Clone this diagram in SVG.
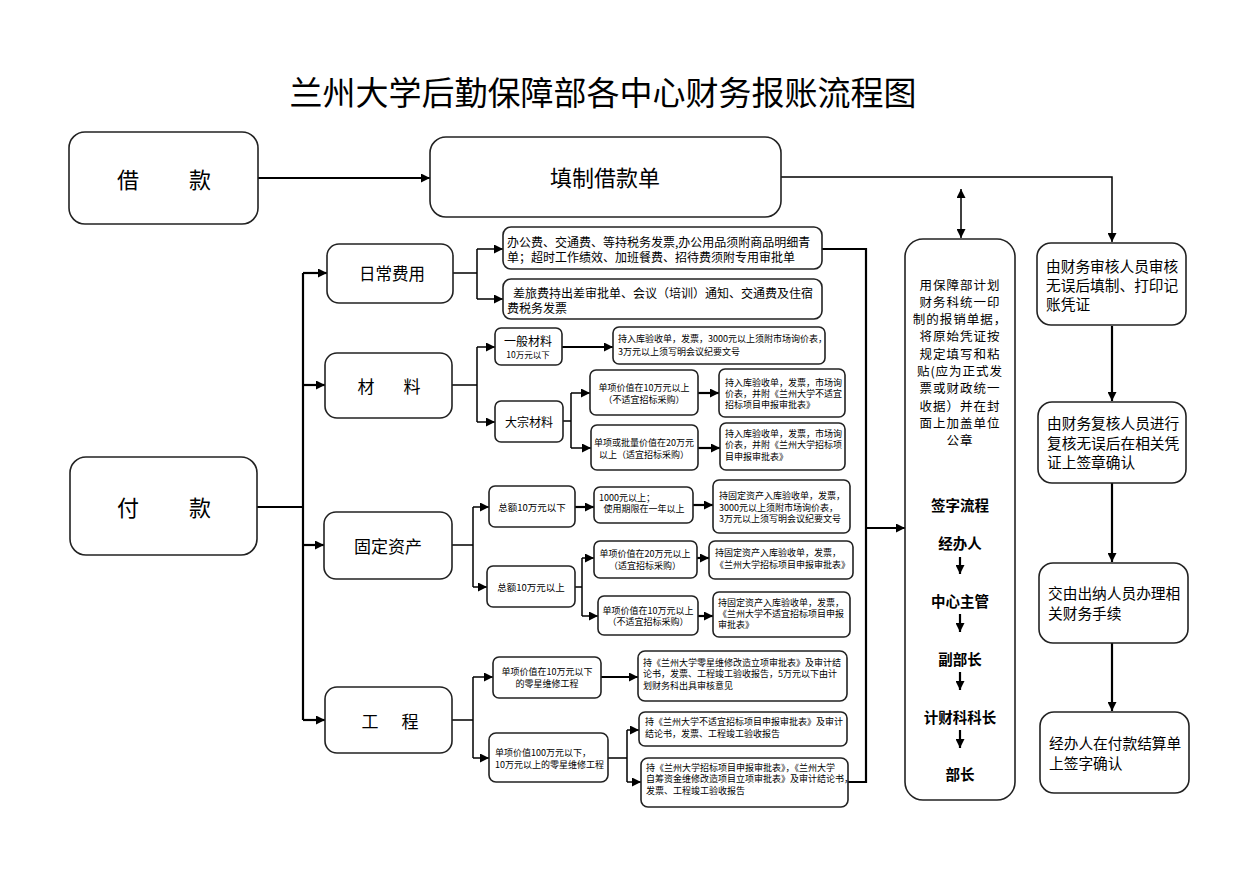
<svg xmlns="http://www.w3.org/2000/svg" width="1253" height="877" viewBox="0 0 1253 877">
<defs>
<marker id="ah" viewBox="0 0 10 10" refX="10" refY="5" markerWidth="9" markerHeight="9" markerUnits="userSpaceOnUse" orient="auto-start-reverse"><path d="M0,0 L10,5 L0,10 z" fill="#000"/></marker>
<style>
.box{fill:#fff;stroke:#222;stroke-width:1.6}
.t{font-family:"Noto Sans CJK SC","Liberation Sans",sans-serif;fill:#000;dominant-baseline:central}
.c{text-anchor:middle}
.b{font-weight:bold}
.ln{fill:none;stroke:#000;stroke-width:1.5}
.th{fill:none;stroke:#000;stroke-width:2.2}
.ar{marker-end:url(#ah)}
.s9{font-size:9px}
.s12{font-size:12px}
</style>
</defs>
<rect width="1253" height="877" fill="#fff"/>
<text class="t c" x="603" y="91" font-size="33">兰州大学后勤保障部各中心财务报账流程图</text>

<g id="connectors">
<path class="th ar" d="M258,178 H430"/>
<path class="ln ar" d="M781,177 H1112 V242"/>
<path class="ln ar" d="M961,189 V238" marker-start="url(#ah)"/>
<path class="th ar" d="M1112,326 V401"/>
<path class="th ar" d="M1112,483 V562"/>
<path class="th ar" d="M1112,643 V711"/>
<path class="th" d="M257,507 H303"/>
<path class="th" d="M303,273 V720"/>
<path class="th ar" d="M303,273 H327"/>
<path class="th ar" d="M303,385 H325"/>
<path class="th ar" d="M303,545 H324"/>
<path class="th ar" d="M303,720 H325"/>
<path class="ln" d="M453,273 H477 M477,249 V299"/>
<path class="ln ar" d="M477,249 H503"/>
<path class="ln ar" d="M477,299 H503"/>
<path class="ln" d="M452,385 H477 M477,347 V422"/>
<path class="ln ar" d="M477,347 H495"/>
<path class="ln ar" d="M477,422 H495"/>
<path class="th ar" d="M562,347 H613"/>
<path class="ln" d="M563,421 H571 M571,393 V448"/>
<path class="ln ar" d="M571,393 H590"/>
<path class="ln ar" d="M571,448 H591"/>
<path class="th ar" d="M698,393 H719"/>
<path class="th ar" d="M698,448 H720"/>
<path class="ln" d="M452,545 H473 M473,507 V587"/>
<path class="ln ar" d="M473,507 H489"/>
<path class="ln ar" d="M473,587 H487"/>
<path class="th ar" d="M575,507 H594"/>
<path class="th ar" d="M693,505 H713"/>
<path class="ln" d="M575,587 H582 M582,558 V616"/>
<path class="ln ar" d="M582,558 H594"/>
<path class="ln ar" d="M582,616 H598"/>
<path class="th ar" d="M697,558 H709"/>
<path class="th ar" d="M698,616 H713"/>
<path class="ln" d="M452,720 H473 M473,677 V758"/>
<path class="ln ar" d="M473,677 H493"/>
<path class="ln ar" d="M473,758 H489"/>
<path class="th ar" d="M601,677 H638"/>
<path class="ln" d="M608,758 H627 M627,730 V782"/>
<path class="ln ar" d="M627,730 H639"/>
<path class="ln ar" d="M627,782 H641"/>
<path class="th" d="M822,249 H866 V782 H848"/>
<path class="th ar" d="M866,528 H905"/>
</g>

<g id="n-jiekuan"><rect class="box" x="69" y="132" width="189" height="92" rx="16"/><text class="t c" x="128" y="178" font-size="22">借</text><text class="t c" x="200" y="178" font-size="22">款</text></g>
<g id="n-tianzhi"><rect class="box" x="430" y="137" width="351" height="80" rx="16"/><text class="t c" x="605" y="176" font-size="22">填制借款单</text></g>
<g id="n-fukuan"><rect class="box" x="70" y="457" width="187" height="98" rx="16"/><text class="t c" x="128" y="506" font-size="22">付</text><text class="t c" x="200" y="506" font-size="22">款</text></g>

<g id="n-richang"><rect class="box" x="327" y="244" width="126" height="59" rx="12"/><text class="t c" x="392" y="273" font-size="16.5">日常费用</text></g>
<g id="n-cailiao"><rect class="box" x="325" y="353" width="127" height="65" rx="12"/><text class="t c" x="366" y="385" font-size="17">材</text><text class="t c" x="412" y="385" font-size="17">料</text></g>
<g id="n-guding"><rect class="box" x="324" y="512" width="128" height="67" rx="12"/><text class="t c" x="388" y="545" font-size="17">固定资产</text></g>
<g id="n-gongcheng"><rect class="box" x="325" y="687" width="127" height="66" rx="12"/><text class="t c" x="370" y="720" font-size="17">工</text><text class="t c" x="410" y="720" font-size="17">程</text></g>

<g id="n-rc1"><rect class="box" x="503" y="227" width="319" height="42" rx="8"/><text class="t s12" x="507" y="241">办公费、交通费、等持税务发票,办公用品须附商品明细青</text><text class="t s12" x="507" y="256">单；超时工作绩效、加班餐费、招待费须附专用审批单</text></g>
<g id="n-rc2"><rect class="box" x="503" y="279" width="319" height="40" rx="8"/><text class="t s12" x="513" y="292">差旅费持出差审批单、会议（培训）通知、交通费及住宿</text><text class="t s12" x="507" y="307">费税务发票</text></g>

<g id="n-yiban"><rect class="box" x="495" y="328" width="67" height="37" rx="6"/><text class="t c" x="528" y="340" font-size="12">一般材料</text><text class="t c" x="528" y="354" font-size="8.5">10万元以下</text></g>
<g id="n-yiban2"><rect class="box" x="613" y="327" width="212" height="37" rx="6"/><text class="t s9" x="618" y="338">持入库验收单，发票，3000元以上须附市场询价表，</text><text class="t s9" x="618" y="351">3万元以上须写明会议纪要文号</text></g>
<g id="n-dazong"><rect class="box" x="495" y="401" width="68" height="41" rx="6"/><text class="t c" x="529" y="421" font-size="12">大宗材料</text></g>
<g id="n-m1"><rect class="box" x="590" y="370" width="108" height="45" rx="6"/><text class="t c s9" x="644" y="387">单项价值在10万元以上</text><text class="t c s9" x="644" y="399">（不适宜招标采购）</text></g>
<g id="n-m2"><rect class="box" x="591" y="425" width="107" height="45" rx="6"/><text class="t c s9" x="644" y="442">单项或批量价值在20万元</text><text class="t c s9" x="644" y="454">以上（适宜招标采购）</text></g>
<g id="n-m3"><rect class="box" x="719" y="369" width="126" height="48" rx="6"/><text class="t s9" x="725" y="382">持入库验收单，发票，市场询</text><text class="t s9" x="725" y="393">价表，并附《兰州大学不适宜</text><text class="t s9" x="725" y="404">招标项目申报审批表》</text></g>
<g id="n-m4"><rect class="box" x="720" y="423" width="125" height="47" rx="6"/><text class="t s9" x="725" y="433">持入库验收单，发票，市场询</text><text class="t s9" x="725" y="444">价表，并附《兰州大学招标项</text><text class="t s9" x="725" y="456">目申报审批表》</text></g>

<g id="n-f1"><rect class="box" x="489" y="486" width="86" height="41" rx="6"/><text class="t c" x="532" y="507" font-size="9.5">总额10万元以下</text></g>
<g id="n-f2"><rect class="box" x="594" y="487" width="99" height="36" rx="6"/><text class="t s9" x="599" y="497">1000元以上；</text><text class="t c s9" x="644" y="508">使用期限在一年以上</text></g>
<g id="n-f3"><rect class="box" x="713" y="480" width="137" height="53" rx="6"/><text class="t s9" x="719" y="495">持固定资产入库验收单，发票，</text><text class="t s9" x="719" y="507">3000元以上须附市场询价表，</text><text class="t s9" x="719" y="518">3万元以上须写明会议纪要文号</text></g>
<g id="n-f4"><rect class="box" x="487" y="566" width="88" height="41" rx="6"/><text class="t c" x="531" y="587" font-size="9.5">总额10万元以上</text></g>
<g id="n-f5"><rect class="box" x="594" y="541" width="103" height="37" rx="6"/><text class="t c s9" x="645" y="553">单项价值在20万元以上</text><text class="t c s9" x="645" y="565">（适宜招标采购）</text></g>
<g id="n-f6"><rect class="box" x="598" y="596" width="100" height="39" rx="6"/><text class="t c s9" x="648" y="610">单项价值在10万元以上</text><text class="t c s9" x="648" y="621">（不适宜招标采购）</text></g>
<g id="n-f7"><rect class="box" x="709" y="541" width="144" height="38" rx="6"/><text class="t s9" x="715" y="552">持固定资产入库验收单，发票，</text><text class="t s9" x="715" y="564">《兰州大学招标项目申报审批表》</text></g>
<g id="n-f8"><rect class="box" x="713" y="592" width="137" height="45" rx="6"/><text class="t s9" x="718" y="602">持固定资产入库验收单，发票，</text><text class="t s9" x="718" y="613">《兰州大学不适宜招标项目申报</text><text class="t s9" x="718" y="624">审批表》</text></g>

<g id="n-e1"><rect class="box" x="493" y="657" width="108" height="41" rx="6"/><text class="t c s9" x="547" y="671">单项价值在10万元以下</text><text class="t c s9" x="547" y="683">的零星维修工程</text></g>
<g id="n-e2"><rect class="box" x="638" y="651" width="209" height="50" rx="7"/><text class="t s9" x="643" y="662">持《兰州大学零星维修改造立项审批表》及审计结</text><text class="t s9" x="643" y="673">论书，发票、工程竣工验收报告，5万元以下由计</text><text class="t s9" x="643" y="685">划财务科出具审核意见</text></g>
<g id="n-e3"><rect class="box" x="489" y="733" width="119" height="49" rx="7"/><text class="t s9" x="495" y="752">单项价值100万元以下，</text><text class="t s9" x="495" y="764">10万元以上的零星维修工程</text></g>
<g id="n-e4"><rect class="box" x="639" y="712" width="208" height="34" rx="6"/><text class="t s9" x="645" y="721">持《兰州大学不适宜招标项目申报审批表》及审计</text><text class="t s9" x="645" y="733">结论书，发票、工程竣工验收报告</text></g>
<g id="n-e5"><rect class="box" x="641" y="758" width="207" height="49" rx="7"/><text class="t s9" x="646" y="767">持《兰州大学招标项目申报审批表》，《兰州大学</text><text class="t s9" x="646" y="778">自筹资金维修改造项目立项审批表》及审计结论书，</text><text class="t s9" x="646" y="790">发票、工程竣工验收报告</text></g>

<g id="n-middle"><rect class="box" x="905" y="239" width="110" height="561" rx="18"/>
<text class="t c" x="960" font-size="12.5" letter-spacing="1"><tspan x="960" y="284">用保障部计划</tspan><tspan x="960" y="301">财务科统一印</tspan><tspan x="960" y="318">制的报销单据，</tspan><tspan x="960" y="335">将原始凭证按</tspan><tspan x="960" y="353">规定填写和粘</tspan><tspan x="960" y="370">贴(应为正式发</tspan><tspan x="960" y="387">票或财政统一</tspan><tspan x="960" y="405">收据）并在封</tspan><tspan x="960" y="422">面上加盖单位</tspan><tspan x="960" y="439">公章</tspan></text>
<text class="t c b" x="960" y="504" font-size="14.5">签字流程</text>
<text class="t c b" x="960" y="542" font-size="14.5">经办人</text>
<path class="th ar" d="M960,557 V574"/>
<text class="t c b" x="960" y="600" font-size="14.5">中心主管</text>
<path class="th ar" d="M960,614 V632"/>
<text class="t c b" x="960" y="658" font-size="14.5">副部长</text>
<path class="th ar" d="M960,672 V690"/>
<text class="t c b" x="960" y="716" font-size="14.5">计财科科长</text>
<path class="th ar" d="M960,730 V748"/>
<text class="t c b" x="960" y="773" font-size="14.5">部长</text>
</g>

<g id="n-r1"><rect class="box" x="1037" y="243" width="149" height="82" rx="14"/><text class="t" x="1046" font-size="14.7"><tspan x="1046" y="265">由财务审核人员审核</tspan><tspan x="1046" y="284">无误后填制、打印记</tspan><tspan x="1046" y="303">账凭证</tspan></text></g>
<g id="n-r2"><rect class="box" x="1038" y="402" width="148" height="81" rx="14"/><text class="t" x="1047" font-size="14.7"><tspan x="1047" y="422">由财务复核人员进行</tspan><tspan x="1047" y="442">复核无误后在相关凭</tspan><tspan x="1047" y="461">证上签章确认</tspan></text></g>
<g id="n-r3"><rect class="box" x="1039" y="563" width="149" height="80" rx="14"/><text class="t" x="1048" font-size="14.7"><tspan x="1048" y="592">交由出纳人员办理相</tspan><tspan x="1048" y="612">关财务手续</tspan></text></g>
<g id="n-r4"><rect class="box" x="1040" y="712" width="149" height="81" rx="14"/><text class="t" x="1049" font-size="14.7"><tspan x="1049" y="742">经办人在付款结算单</tspan><tspan x="1049" y="762">上签字确认</tspan></text></g>
</svg>
